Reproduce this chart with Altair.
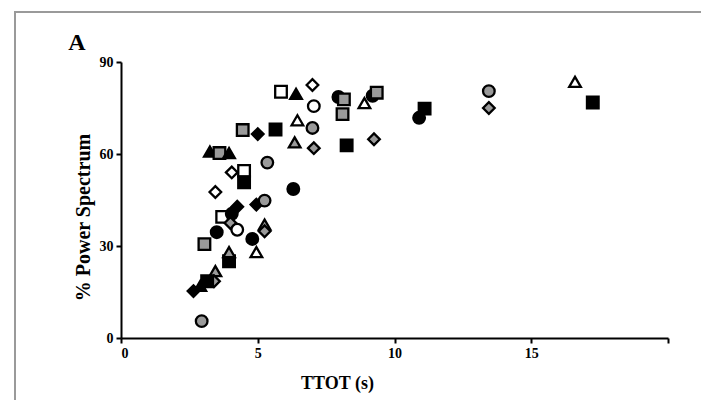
import altair as alt
import pandas as pd

# TTOT (s)
x_vals = [5.85, 6.4, 7.0, 7.05, 7.95, 8.15, 8.1, 8.9, 9.2, 9.35,
          11.1, 10.9, 9.25, 13.45, 13.45, 16.6, 17.25, 8.25, 6.45, 7.0,
          6.35, 7.05, 5.65, 4.45, 5.0, 3.25, 3.6, 3.95, 5.35, 4.5,
          4.05, 4.5, 3.45, 6.3, 4.95, 5.25, 3.7, 4.05, 4.25, 4.0,
          4.25, 3.5, 3.05, 4.8, 5.25, 5.25, 4.95, 3.95, 3.95, 3.45,
          3.4, 2.65, 2.9, 3.15, 2.95]
# % Power Spectrum
y_vals = [80.3, 79.6, 82.5, 75.6, 78.6, 77.8, 73.0, 76.6, 79.0, 80.0,
          74.8, 71.8, 64.8, 80.5, 75.0, 83.5, 76.8, 62.8, 71.0, 68.5,
          63.8, 61.9, 68.0, 67.8, 66.5, 60.8, 60.3, 60.3, 57.2, 54.5,
          54.0, 50.8, 47.6, 48.6, 43.5, 44.8, 39.5, 40.5, 42.8, 37.5,
          35.3, 34.5, 30.6, 32.3, 37.0, 34.8, 28.0, 25.0, 28.0, 21.8,
          18.5, 15.3, 17.0, 18.5, 5.5]
shapes = ["square", "triangle", "diamond", "circle", "circle", "square", "square", "triangle", "circle", "square",
          "square", "circle", "diamond", "circle", "diamond", "triangle", "square", "square", "triangle", "circle",
          "triangle", "diamond", "square", "square", "diamond", "triangle", "square", "triangle", "circle", "square",
          "diamond", "square", "diamond", "circle", "diamond", "circle", "square", "circle", "diamond", "diamond",
          "circle", "circle", "square", "circle", "triangle", "diamond", "triangle", "square", "triangle", "triangle",
          "diamond", "diamond", "triangle", "square", "circle"]
fills = ["open", "filled", "open", "open", "filled", "gray", "gray", "open", "filled", "gray",
         "filled", "filled", "gray", "gray", "gray", "open", "filled", "filled", "open", "gray",
         "gray", "gray", "filled", "gray", "filled", "filled", "gray", "filled", "gray", "open",
         "open", "filled", "open", "filled", "filled", "gray", "open", "filled", "filled", "gray",
         "open", "filled", "gray", "filled", "gray", "gray", "open", "filled", "gray", "gray",
         "gray", "filled", "filled", "filled", "gray"]

x_ticks = [0, 5, 10, 15, 20]
y_ticks = [0, 30, 60, 90]

df = pd.DataFrame({"t": x_vals, "p": y_vals, "shape": shapes, "fill": fills})

FONT = "Liberation Serif"

points = alt.Chart(df).mark_point(size=135, strokeWidth=2.3, stroke="black", opacity=1, fillOpacity=1).encode(
    x=alt.X("t:Q", scale=alt.Scale(domain=[0, 20], nice=False),
            axis=alt.Axis(values=x_ticks, title="TTOT (s)",
                          labelExpr="datum.value == 20 ? '' : datum.label",
                          titleX=216, titleY=45, titleBaseline="middle")),
    y=alt.Y("p:Q", scale=alt.Scale(domain=[0, 90], nice=False),
            axis=alt.Axis(values=y_ticks, title="% Power Spectrum",
                          titleX=-32, titleY=155, titleBaseline="alphabetic", titleFontSize=20)),
    shape=alt.Shape("shape:N", scale=alt.Scale(domain=["circle", "square", "triangle", "diamond"],
                                               range=["circle", "square", "triangle-up", "diamond"]),
                    legend=None),
    fill=alt.Fill("fill:N", scale=alt.Scale(domain=["filled", "open", "gray"],
                                            range=["black", "white", "#9a9a9a"]),
                  legend=None),
)

panel_label = alt.Chart(pd.DataFrame({"label": ["A"]})).mark_text(
    font=FONT, fontWeight="bold", fontSize=24, align="center", baseline="middle", color="black"
).encode(text="label:N", x=alt.value(-44), y=alt.value(-19))

frame = alt.Chart(pd.DataFrame({"f": [1]})).mark_rect(
    fillOpacity=0, stroke="#9a9a9a", strokeWidth=2
).encode(x=alt.value(-106), x2=alt.value(600), y=alt.value(-50), y2=alt.value(400))

chart = alt.layer(frame, points, panel_label).properties(
    width=547, height=276,
    autosize=alt.AutoSizeParams(type="none"),
    padding={"left": 113, "top": 54, "right": 33, "bottom": 62},
).configure_view(stroke=None).configure_axis(
    domainColor="black", domainWidth=2, tickColor="black", tickWidth=2, tickSize=5,
    grid=False, labelFont=FONT, labelFontWeight="bold", labelFontSize=14, labelColor="black",
    titleFont=FONT, titleFontWeight="bold", titleFontSize=18, titleColor="black", labelPadding=3,
).configure_axisY(labelPadding=3)

chart.save("out.html", embed_options={"renderer": "svg", "actions": False})
